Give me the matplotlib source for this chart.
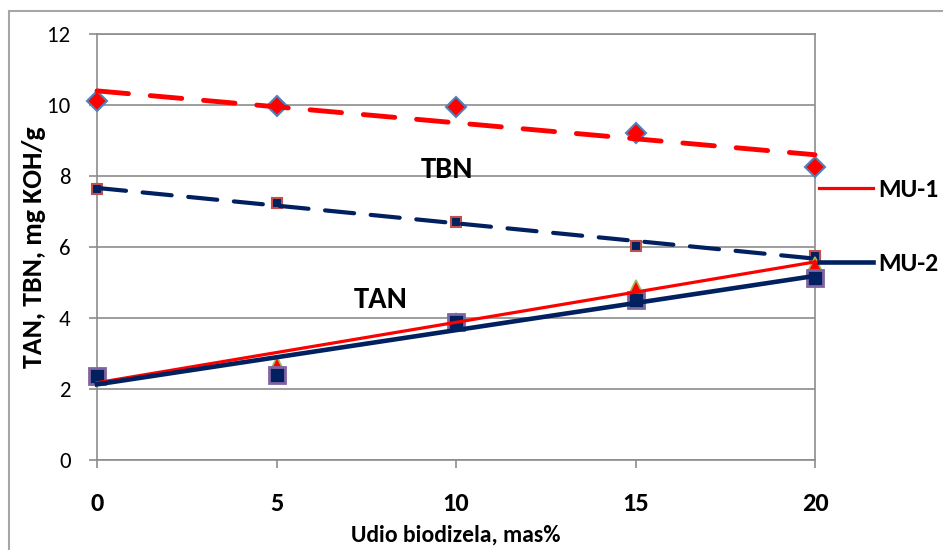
import numpy as np
import matplotlib
matplotlib.use("Agg")
import matplotlib.pyplot as plt
from matplotlib.patches import Rectangle

plt.rcParams['font.family'] = ['Carlito', 'DejaVu Sans']

# biodiesel share, mass %
udio = [0, 5, 10, 15, 20]

# base numbers (TBN) and acid numbers (TAN), mg KOH/g
tbn_mu1 = [10.12, 9.97, 9.94, 9.21, 8.25]
tbn_mu2 = [7.63, 7.24, 6.70, 6.02, 5.75]
tan_mu1 = [2.35, 2.70, 3.95, 4.87, 5.52]
tan_mu2 = [2.37, 2.39, 3.89, 4.51, 5.13]

RED = '#FF0000'
NAVY = '#002060'
GRID = '#8C8C8C'

x = np.array(udio, dtype=float)


def trend(y):
    k, b = np.polyfit(x, y, 1)
    return k * x + b


fig = plt.figure(figsize=(9.43, 5.5), dpi=100)
ax = fig.add_axes([97 / 943, 90 / 550, 718 / 943, 426 / 550])

# outer chart frame
fig.patches.append(Rectangle((9 / 943, -0.5), 2, 1.5 - 11 / 550, transform=fig.transFigure,
                             fill=False, ec='#A6A6A6', lw=1.5))

# measured points
ax.plot(x, tbn_mu1, ls='none', marker='D', ms=10.5, mfc=RED, mec='#4F81BD', mew=1.5, clip_on=False, zorder=3)
ax.plot(x, tbn_mu2, ls='none', marker='s', ms=7, mfc=NAVY, mec='#C0504D', mew=1.5, clip_on=False, zorder=3)
ax.plot(x, tan_mu1, ls='none', marker='^', ms=10, mfc=RED, mec='#9BBB59', mew=1.2, clip_on=False, zorder=3)
ax.plot(x, tan_mu2, ls='none', marker='s', ms=12, mfc=NAVY, mec='#8064A2', mew=2, clip_on=False, zorder=3)

# linear trends
ax.plot(x, trend(tbn_mu1), color=RED, lw=3.5, dashes=(6.5, 4.5), dash_capstyle='round', zorder=4, clip_on=False)
ax.plot(x, trend(tbn_mu2), color=NAVY, lw=3.0, dashes=(7, 4), dash_capstyle='round', zorder=4, clip_on=False)
l1, = ax.plot(x, trend(tan_mu1), color=RED, lw=2.3, zorder=4, clip_on=False, label='MU-1')
l2, = ax.plot(x, trend(tan_mu2), color=NAVY, lw=3.3, zorder=4, clip_on=False, label='MU-2')

ax.text(9.75, 8.17, 'TBN', fontsize=22, fontweight='bold', ha='center', va='center')
ax.text(7.9, 4.5, 'TAN', fontsize=22, fontweight='bold', ha='center', va='center')

ax.set_xlim(0, 20)
ax.set_ylim(0, 12)
ax.set_xticks(udio)
ax.set_yticks(range(0, 13, 2))
ax.grid(axis='y', color=GRID, lw=1.2)
ax.set_axisbelow(True)
for s in ax.spines.values():
    s.set_color(GRID)
    s.set_linewidth(1.2)
ax.tick_params(axis='both', color=GRID, width=1.2, length=6)
ax.tick_params(axis='y', labelsize=16.5, pad=13)
ax.tick_params(axis='x', labelsize=19, pad=17)
for lab in ax.get_xticklabels():
    lab.set_fontweight('bold')

ax.set_xlabel('Udio biodizela, mas%', fontsize=17, fontweight='bold', labelpad=7)
ax.set_ylabel('TAN, TBN, mg KOH/g', fontsize=20, fontweight='bold', labelpad=1)

fig.legend(handles=[l1, l2], loc='upper left', bbox_to_anchor=(819 / 943, 1 - 178 / 550),
           frameon=False, prop={'weight': 'bold', 'size': 18.5}, borderpad=0, borderaxespad=0,
           handlelength=2.1, handletextpad=0.2, labelspacing=1.98)

fig.savefig('out.png', dpi=100)
